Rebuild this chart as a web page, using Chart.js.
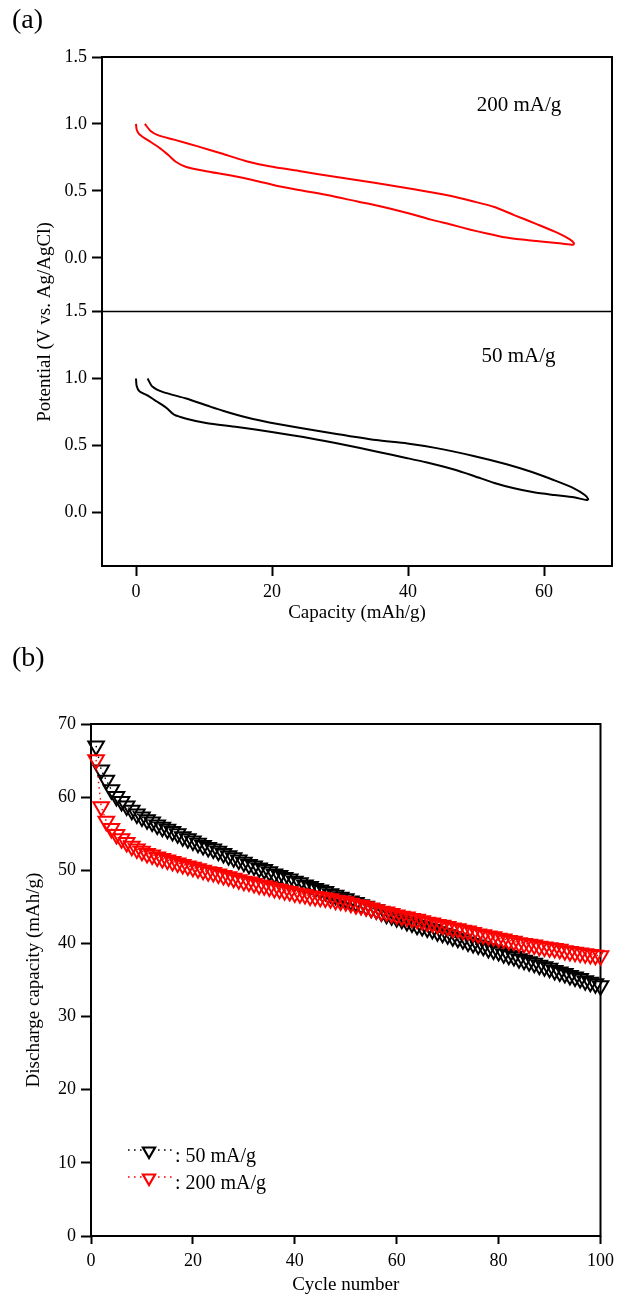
<!DOCTYPE html>
<html>
<head>
<meta charset="utf-8">
<script src="https://cdn.jsdelivr.net/npm/chart.js@4.4.1/dist/chart.umd.min.js"></script>
<style>
  body { margin: 0; background: #fff; }
  canvas { display: block; }
</style>
</head>
<body>
<canvas id="chartA" width="620" height="640"></canvas>
<canvas id="chartB" width="620" height="655"></canvas>
<script>
// (a) charge/discharge curves
const CAP_200 = [1.3, 2.15, 3.3, 5.6, 9.1, 12.6, 16.1, 19.6, 24.2, 29.5, 35.3, 41.1, 45.8, 49.8, 52.7, 55.6, 59.1, 62.0, 63.8, 64.4, 64.3,
  62.6, 60.3, 56.8, 53.9, 51.6, 49.2, 46.3, 43.4, 39.9, 35.9, 32.4, 28.3, 24.2, 20.8, 17.3, 13.8, 10.3, 7.4, 5.9, 4.8, 3.6, 2.15, 1.0, 0.4, 0.1, 0.0];
const POT_200 = [1.0, 0.948, 0.915, 0.883, 0.833, 0.779, 0.724, 0.684, 0.647, 0.604, 0.560, 0.510, 0.468, 0.420, 0.380, 0.320, 0.249, 0.187, 0.139, 0.112, 0.098,
  0.107, 0.119, 0.137, 0.157, 0.182, 0.211, 0.249, 0.286, 0.336, 0.386, 0.423, 0.468, 0.505, 0.537, 0.580, 0.617, 0.647, 0.679, 0.716, 0.766, 0.816, 0.866, 0.903, 0.928, 0.958, 1.0];
const CAP_50 = [1.7, 2.4, 3.9, 7.4, 10.9, 12.9, 14.9, 17.2, 19.6, 24.2, 29.5, 35.3, 39.9, 44.0, 49.8, 54.5, 58.0, 61.5, 64.4, 66.0, 66.5, 66.3,
  64.4, 61.5, 58.5, 55.6, 52.7, 49.8, 46.9, 42.8, 39.9, 35.3, 30.6, 25.4, 20.2, 14.9, 10.3, 7.4, 5.6, 4.5, 3.0, 1.6, 0.5, 0.1, 0.0];
const POT_50 = [1.0, 0.94, 0.90, 0.85, 0.79, 0.757, 0.727, 0.697, 0.672, 0.63, 0.585, 0.54, 0.515, 0.482, 0.42, 0.36, 0.305, 0.24, 0.18, 0.13, 0.10, 0.092,
  0.113, 0.13, 0.15, 0.18, 0.22, 0.27, 0.318, 0.372, 0.405, 0.455, 0.505, 0.555, 0.598, 0.638, 0.668, 0.70, 0.73, 0.78, 0.83, 0.875, 0.905, 0.943, 1.0];

const X_TICKS_A = [0, 20, 40, 60];
const Y_TICKS_A = [0.0, 0.5, 1.0, 1.5];

// (b) discharge capacity vs cycle number
const CYCLES = Array.from({ length: 100 }, (_, i) => i + 1);
const CAPACITY_50 = [
  67.0, 63.7, 62.3, 61.0, 60.1, 59.4, 58.8, 58.2, 57.7, 57.3,
  56.9, 56.6, 56.2, 55.9, 55.6, 55.3, 55.0, 54.6, 54.3, 54.0,
  53.7, 53.4, 53.1, 52.9, 52.6, 52.3, 52.0, 51.7, 51.4, 51.1,
  50.8, 50.6, 50.3, 50.1, 49.8, 49.5, 49.3, 49.0, 48.8, 48.5,
  48.3, 48.0, 47.8, 47.5, 47.3, 47.1, 46.8, 46.6, 46.3, 46.1,
  45.8, 45.6, 45.3, 45.1, 44.8, 44.6, 44.3, 44.0, 43.8, 43.5,
  43.3, 43.0, 42.8, 42.5, 42.3, 42.1, 41.9, 41.6, 41.4, 41.2,
  40.9, 40.7, 40.5, 40.2, 40.0, 39.8, 39.6, 39.3, 39.1, 38.9,
  38.6, 38.4, 38.2, 37.9, 37.7, 37.5, 37.3, 37.0, 36.8, 36.6,
  36.3, 36.1, 35.9, 35.6, 35.4, 35.2, 34.9, 34.7, 34.5, 34.2];
const CAPACITY_200 = [
  65.1, 58.7, 56.7, 55.7, 54.9, 54.3, 53.8, 53.3, 52.9, 52.6,
  52.3, 52.1, 51.8, 51.6, 51.4, 51.2, 51.0, 50.8, 50.6, 50.4,
  50.2, 50.0, 49.8, 49.7, 49.5, 49.3, 49.1, 48.9, 48.7, 48.5,
  48.4, 48.2, 48.0, 47.9, 47.7, 47.5, 47.4, 47.2, 47.1, 46.9,
  46.8, 46.7, 46.5, 46.4, 46.3, 46.2, 46.1, 45.9, 45.8, 45.7,
  45.5, 45.3, 45.2, 45.0, 44.8, 44.6, 44.4, 44.3, 44.1, 43.9,
  43.7, 43.6, 43.4, 43.3, 43.1, 42.9, 42.8, 42.6, 42.5, 42.3,
  42.1, 42.0, 41.8, 41.7, 41.5, 41.3, 41.2, 41.0, 40.9, 40.7,
  40.6, 40.4, 40.3, 40.1, 40.0, 39.9, 39.8, 39.6, 39.5, 39.4,
  39.3, 39.2, 39.0, 38.9, 38.8, 38.7, 38.6, 38.5, 38.4, 38.3];

const X_TICKS_B = [0, 20, 40, 60, 80, 100];
const Y_TICKS_B = [0, 10, 20, 30, 40, 50, 60, 70];

const SERIF = 'Liberation Serif, Times New Roman, serif';
const RED = '#ff0000';
const BLACK = '#000000';

function zip(xs, ys) {
  return xs.map((x, i) => ({ x: x, y: ys[i] }));
}

function fixedTicks(list) {
  return scale => { scale.ticks = list.map(v => ({ value: v })); };
}

function tickGrid(len) {
  return { drawOnChartArea: false, drawTicks: true, tickLength: len, tickWidth: 2, tickColor: '#000' };
}

const TICK_FONT = { family: SERIF, size: 18 };

// ---------- panel (a) ----------
const FRAME_A = {
  id: 'frameA',
  afterDatasetsDraw(chart) {
    const { ctx, chartArea } = chart;
    ctx.save();
    ctx.strokeStyle = '#000';
    ctx.lineWidth = 2;
    ctx.strokeRect(chartArea.left, chartArea.top, chartArea.right - chartArea.left, chartArea.bottom - chartArea.top);
    // line between the two stacked panels
    const mid = chart.scales.yTop.bottom;
    ctx.lineWidth = 1.3;
    ctx.beginPath();
    ctx.moveTo(chartArea.left, mid);
    ctx.lineTo(chartArea.right, mid);
    ctx.stroke();
    ctx.restore();
  },
  afterDraw(chart) {
    const { ctx, chartArea, scales } = chart;
    ctx.save();
    ctx.fillStyle = '#000';
    ctx.textBaseline = 'middle';
    ctx.font = `21px ${SERIF}`;
    ctx.textAlign = 'left';
    ctx.fillText('200 mA/g', scales.x.getPixelForValue(50.1), scales.yTop.getPixelForValue(1.14));
    ctx.fillText('50 mA/g', scales.x.getPixelForValue(50.8), scales.yBot.getPixelForValue(1.165));

    ctx.font = `19px ${SERIF}`;
    ctx.textAlign = 'center';
    ctx.fillText('Capacity (mAh/g)', (chartArea.left + chartArea.right) / 2, 613);
    ctx.save();
    ctx.translate(45, 322);
    ctx.rotate(-Math.PI / 2);
    ctx.fillText('Potential (V vs. Ag/AgCl)', 0, 0);
    ctx.restore();

    ctx.font = `28px ${SERIF}`;
    ctx.textAlign = 'left';
    ctx.textBaseline = 'alphabetic';
    ctx.fillText('(a)', 12, 28);
    ctx.restore();
  }
};

function potentialAxis() {
  return {
    type: 'linear',
    position: 'left',
    stack: 'potential',
    stackWeight: 1,
    min: -0.4,
    max: 1.5,
    afterBuildTicks: fixedTicks(Y_TICKS_A),
    afterFit: s => { s.width = 102; },
    grid: tickGrid(10),
    border: { display: false },
    ticks: { color: '#000', font: TICK_FONT, padding: 5, callback: v => v.toFixed(1) }
  };
}

new Chart(document.getElementById('chartA'), {
  type: 'scatter',
  data: {
    datasets: [
      {
        label: '200 mA/g',
        data: zip(CAP_200, POT_200),
        yAxisID: 'yTop',
        showLine: true,
        borderColor: RED,
        borderWidth: 2,
        pointRadius: 0,
        tension: 0.25
      },
      {
        label: '50 mA/g',
        data: zip(CAP_50, POT_50),
        yAxisID: 'yBot',
        showLine: true,
        borderColor: BLACK,
        borderWidth: 2,
        pointRadius: 0,
        tension: 0.25
      }
    ]
  },
  options: {
    responsive: false,
    animation: false,
    layout: { padding: { top: 57, right: 8, left: 0, bottom: 0 } },
    plugins: { legend: { display: false }, tooltip: { enabled: false } },
    scales: {
      x: {
        type: 'linear',
        position: 'bottom',
        min: -5,
        max: 70,
        afterBuildTicks: fixedTicks(X_TICKS_A),
        afterFit: s => { s.height = 74; },
        grid: tickGrid(10),
        border: { display: false },
        ticks: { color: '#000', font: TICK_FONT, padding: 5, maxRotation: 0, autoSkip: false }
      },
      // the later one is stacked on top
      yBot: potentialAxis(),
      yTop: potentialAxis()
    }
  },
  plugins: [FRAME_A]
});

// ---------- panel (b) ----------
const FRAME_B = {
  id: 'frameB',
  beforeDatasetsDraw(chart) {
    const { ctx, chartArea } = chart;
    ctx.save();
    ctx.strokeStyle = '#000';
    ctx.lineWidth = 2;
    ctx.strokeRect(chartArea.left, chartArea.top, chartArea.right - chartArea.left, chartArea.bottom - chartArea.top);
    ctx.restore();
  },
  afterDraw(chart) {
    const { ctx, chartArea } = chart;
    ctx.save();
    ctx.fillStyle = '#000';
    ctx.textBaseline = 'middle';
    ctx.font = `19px ${SERIF}`;
    ctx.textAlign = 'center';
    ctx.fillText('Cycle number', (chartArea.left + chartArea.right) / 2, 645);
    ctx.save();
    ctx.translate(34, (chartArea.top + chartArea.bottom) / 2);
    ctx.rotate(-Math.PI / 2);
    ctx.fillText('Discharge capacity (mAh/g)', 0, 0);
    ctx.restore();

    ctx.font = `28px ${SERIF}`;
    ctx.textAlign = 'left';
    ctx.textBaseline = 'alphabetic';
    ctx.fillText('(b)', 12, 26);

    // legend: dotted line, open triangle, label
    const rows = [[BLACK, ': 50 mA/g', 511], [RED, ': 200 mA/g', 538]];
    rows.forEach(([color, text, y]) => {
      ctx.strokeStyle = color;
      ctx.fillStyle = color;
      ctx.lineWidth = 1.6;
      ctx.setLineDash([1.6, 4.4]);
      ctx.beginPath();
      ctx.moveTo(128, y - 1);
      ctx.lineTo(172, y - 1);
      ctx.stroke();
      ctx.setLineDash([]);
      const r = 7, cx = 149;
      ctx.fillStyle = '#fff';
      ctx.lineWidth = 2.2;
      ctx.beginPath();
      ctx.moveTo(cx, y + r);
      ctx.lineTo(cx - r * Math.sqrt(3) / 2, y - r / 2);
      ctx.lineTo(cx + r * Math.sqrt(3) / 2, y - r / 2);
      ctx.closePath();
      ctx.fill();
      ctx.stroke();
      ctx.fillStyle = '#000';
      ctx.font = `20px ${SERIF}`;
      ctx.textBaseline = 'alphabetic';
      ctx.fillText(text, 175, y + 11);
    });
    ctx.restore();
  }
};

function cycleSeries(label, values, color, order) {
  return {
    label: label,
    data: zip(CYCLES, values),
    showLine: true,
    borderColor: color,
    borderWidth: 1.4,
    borderDash: [1.5, 4],
    pointStyle: 'triangle',
    rotation: 180,
    pointRadius: 9,
    pointBorderWidth: 2,
    pointBorderColor: color,
    pointBackgroundColor: 'rgba(0,0,0,0)',
    clip: false,
    order: order
  };
}

new Chart(document.getElementById('chartB'), {
  type: 'scatter',
  data: {
    datasets: [
      cycleSeries('50 mA/g', CAPACITY_50, BLACK, 2),
      cycleSeries('200 mA/g', CAPACITY_200, RED, 1)
    ]
  },
  options: {
    responsive: false,
    animation: false,
    layout: { padding: { top: 84, right: 17, left: 0, bottom: 0 } },
    plugins: { legend: { display: false }, tooltip: { enabled: false } },
    scales: {
      x: {
        type: 'linear',
        position: 'bottom',
        min: 0,
        max: 100,
        afterBuildTicks: fixedTicks(X_TICKS_B),
        afterFit: s => { s.height = 59; },
        grid: tickGrid(8),
        border: { display: false },
        ticks: { color: '#000', font: TICK_FONT, padding: 6, maxRotation: 0, autoSkip: false }
      },
      y: {
        type: 'linear',
        position: 'left',
        min: 0,
        max: 70,
        afterBuildTicks: fixedTicks(Y_TICKS_B),
        afterFit: s => { s.width = 91; },
        grid: tickGrid(10),
        border: { display: false },
        ticks: { color: '#000', font: TICK_FONT, padding: 5 }
      }
    }
  },
  plugins: [FRAME_B]
});
</script>
</body>
</html>
